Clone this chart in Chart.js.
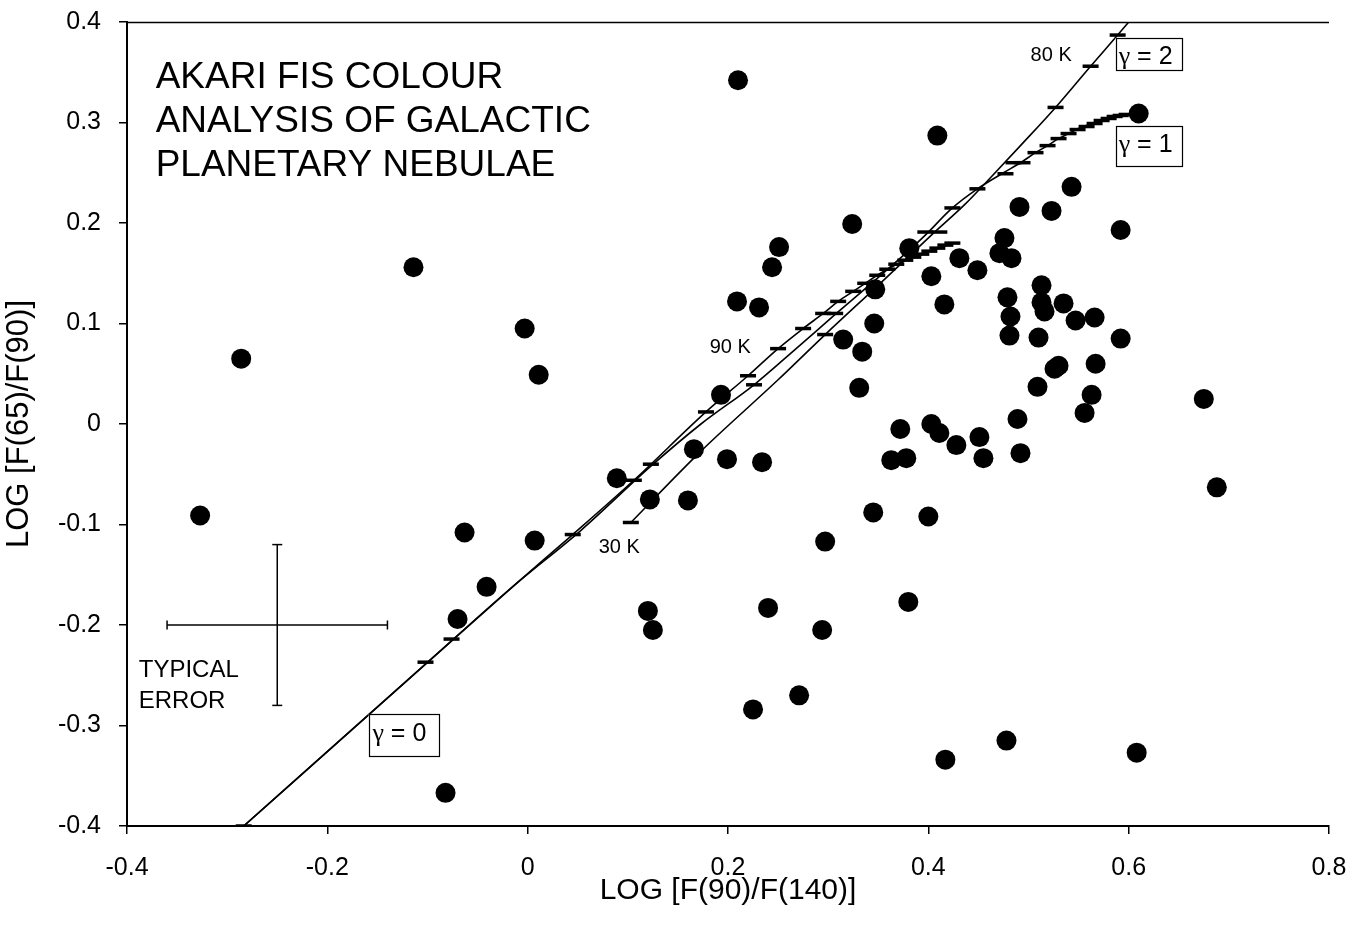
<!DOCTYPE html>
<html><head><meta charset="utf-8">
<script src="https://cdn.jsdelivr.net/npm/chart.js@4.4.1/dist/chart.umd.min.js"></script>
<style>html,body{margin:0;padding:0;background:#fff;}#wrap{width:1355px;height:934px;position:relative;}</style>
</head><body><div id="wrap"><canvas id="c"></canvas></div>
<script>
// Axis ticks
const xTicks = [-0.4, -0.2, 0, 0.2, 0.4, 0.6, 0.8];
const xTickLabels = ['-0.4', '-0.2', '0', '0.2', '0.4', '0.6', '0.8'];
const yTicks = [-0.4, -0.3, -0.2, -0.1, 0, 0.1, 0.2, 0.3, 0.4];
const yTickLabels = ['-0.4', '-0.3', '-0.2', '-0.1', '0', '0.1', '0.2', '0.3', '0.4'];

// Planetary nebulae colours
const pnX = [-0.327,-0.286,-0.114,-0.082,-0.070,-0.063,-0.041,-0.003,0.007,0.011,
  0.089,0.120,0.122,0.125,0.160,0.166,0.193,0.199,0.209,0.210,
  0.225,0.231,0.234,0.240,0.244,0.251,0.271,0.294,0.297,0.315,
  0.324,0.331,0.334,0.345,0.346,0.347,0.363,0.372,0.378,0.380,
  0.381,0.400,0.403,0.403,0.411,0.409,0.416,0.417,0.428,0.431,
  0.449,0.451,0.455,0.471,0.476,0.478,0.479,0.482,0.481,0.483,
  0.489,0.491,0.492,0.509,0.510,0.513,0.513,0.516,0.523,0.526,
  0.530,0.535,0.543,0.547,0.556,0.563,0.566,0.567,0.592,0.592,
  0.608,0.610,0.675,0.688];
const pnY = [-0.091,0.065,0.156,-0.367,-0.194,-0.108,-0.162,0.095,-0.116,0.049,
  -0.054,-0.186,-0.075,-0.205,-0.076,-0.025,0.029,-0.035,0.122,0.342,
  -0.284,0.116,-0.038,-0.183,0.156,0.176,-0.270,-0.205,-0.117,0.084,
  0.199,0.036,0.072,-0.088,0.100,0.134,-0.036,-0.005,-0.034,-0.177,
  0.175,-0.092,0.147,0.000,-0.009,0.287,0.119,-0.334,-0.021,0.165,
  0.153,-0.013,-0.034,0.170,0.185,-0.315,0.126,0.107,0.088,0.165,
  0.005,0.216,-0.029,0.037,0.086,0.138,0.121,0.112,0.212,0.055,
  0.058,0.120,0.236,0.103,0.011,0.029,0.106,0.060,0.193,0.085,
  -0.327,0.309,0.025,-0.063];

// Modified blackbody tracks (line vertices and temperature tick marks)
const g0X = [-0.2835,-0.102,-0.014,0.045,0.106,0.178,0.220,0.250,0.275,0.295,0.310,0.325,0.337,0.349,0.361,0.373,0.385,0.398,0.413,0.425];
const g0Y = [-0.400,-0.239,-0.161,-0.110,-0.056,0.012,0.048,0.075,0.095,0.110,0.122,0.132,0.140,0.148,0.155,0.161,0.166,0.171,0.176,0.180];
const g0TX = [-0.2835,-0.102,-0.076,0.045,0.106,0.178,0.220,0.250,0.275,0.295,0.310,0.325,0.337,0.349,0.359,0.368,0.377,0.385,0.393,0.401,0.409,0.417,0.424];
const g0TY = [-0.400,-0.237,-0.214,-0.110,-0.056,0.012,0.048,0.075,0.095,0.110,0.122,0.132,0.140,0.148,0.154,0.159,0.163,0.166,0.169,0.172,0.175,0.178,0.180];

const g1X = [-0.2835,-0.102,-0.014,0.053,0.123,0.173,0.226,0.268,0.307,0.342,0.372,0.397,0.424,0.449,0.475,0.492,0.507,0.519,0.530,0.540,0.552,0.567,0.582,0.597,0.610];
const g1Y = [-0.400,-0.239,-0.161,-0.106,-0.042,0.000,0.039,0.075,0.109,0.139,0.165,0.188,0.215,0.234,0.250,0.260,0.270,0.277,0.284,0.289,0.295,0.300,0.305,0.308,0.309];
const g1TX = [0.123,0.226,0.307,0.397,0.424,0.449,0.477,0.494,0.507,0.519,0.530,0.540,0.549,0.558,0.566,0.573,0.580,0.586,0.592,0.598];
const g1TY = [-0.040,0.039,0.110,0.191,0.215,0.234,0.249,0.260,0.270,0.277,0.284,0.289,0.293,0.296,0.299,0.302,0.304,0.306,0.307,0.308];

const g2X = [0.103,0.173,0.250,0.297,0.352,0.402,0.437,0.462,0.492,0.527,0.562,0.589,0.612];
const g2Y = [-0.098,-0.027,0.044,0.089,0.140,0.187,0.219,0.245,0.277,0.315,0.356,0.387,0.414];
const g2TX = [0.103,0.297,0.411,0.485,0.527,0.562,0.589];
const g2TY = [-0.098,0.089,0.191,0.260,0.315,0.356,0.387];

// Typical error
const errX = [-0.25], errY = [-0.20], errDX = [0.11], errDY = [0.08];

const pts = (xs, ys) => xs.map((x, i) => ({x, y: ys[i]}));
const K = '#000';

const lineDs = (xs, ys) => ({data: pts(xs, ys), showLine: true, borderColor: K, borderWidth: 1.6,
  pointRadius: 0, cubicInterpolationMode: 'monotone'});
const tickDs = (xs, ys) => ({data: pts(xs, ys), pointStyle: 'line', pointRadius: 8, borderColor: K, borderWidth: 3.5});

const datasets = [
  lineDs(g0X, g0Y), lineDs(g1X, g1Y), lineDs(g2X, g2Y),
  tickDs(g0TX, g0TY), tickDs(g1TX, g1TY), tickDs(g2TX, g2TY),
  {data: [{x: errX[0] - errDX[0], y: errY[0]}, {x: errX[0] + errDX[0], y: errY[0]}], showLine: true,
   borderColor: K, borderWidth: 1.5, pointStyle: 'line', pointRotation: 90, pointRadius: 4.5, pointBorderWidth: 1.5},
  {data: [{x: errX[0], y: errY[0] + errDY[0]}, {x: errX[0], y: errY[0] - errDY[0]}], showLine: true,
   borderColor: K, borderWidth: 1.5, pointStyle: 'line', pointRotation: 0, pointRadius: 5, pointBorderWidth: 1.5},
  {data: pts(pnX, pnY), pointStyle: 'circle', pointRadius: 10, backgroundColor: K, borderColor: K, borderWidth: 0}
];
datasets.forEach(d => { d.clip = 0; });

const SANS = '"Liberation Sans", Arial, sans-serif';
const SERIF = '"Liberation Serif", "DejaVu Serif", serif';

const notes = {
  title: {x: -0.3714, y: 0.334, lines: ['AKARI FIS COLOUR', 'ANALYSIS OF GALACTIC', 'PLANETARY NEBULAE'], size: 37, lh: 44},
  err: {x: -0.3883, y: -0.2517, lines: ['TYPICAL', 'ERROR'], size: 24, lh: 31},
  temps: [{x: 0.5021, y: 0.3615, t: '80 K'}, {x: 0.1817, y: 0.0706, t: '90 K'}, {x: 0.0709, y: -0.1284, t: '30 K'}],
  boxes: [
    {x0: 0.587, x1: 0.653, y0: 0.3841, y1: 0.3522, tx: 0.590, ty: 0.3582, g: '2'},
    {x0: 0.587, x1: 0.653, y0: 0.2965, y1: 0.2567, tx: 0.590, ty: 0.2710, g: '1'},
    {x0: -0.1587, x1: -0.0888, y0: -0.2886, y1: -0.3303, tx: -0.155, ty: -0.3155, g: '0'}
  ]
};

const annot = {
  id: 'annot',
  afterDatasetsDraw(chart) {
    const {ctx, scales: {x, y}, chartArea: a} = chart;
    ctx.save();
    ctx.strokeStyle = K; ctx.lineWidth = 1.5;
    ctx.beginPath(); ctx.moveTo(a.left, a.top + 0.5); ctx.lineTo(a.right, a.top + 0.5); ctx.stroke();
    ctx.fillStyle = K; ctx.textBaseline = 'alphabetic'; ctx.textAlign = 'left';
    const block = (n) => {
      ctx.font = n.size + 'px ' + SANS;
      n.lines.forEach((s, i) => ctx.fillText(s, x.getPixelForValue(n.x), y.getPixelForValue(n.y) + i * n.lh));
    };
    block(notes.title); block(notes.err);
    ctx.font = '20px ' + SANS;
    notes.temps.forEach(t => ctx.fillText(t.t, x.getPixelForValue(t.x), y.getPixelForValue(t.y)));
    notes.boxes.forEach(b => {
      const l = x.getPixelForValue(b.x0), r = x.getPixelForValue(b.x1);
      const tp = y.getPixelForValue(b.y0), bt = y.getPixelForValue(b.y1);
      ctx.fillStyle = '#fff'; ctx.fillRect(l, tp, r - l, bt - tp);
      ctx.strokeStyle = K; ctx.lineWidth = 1.2;
      ctx.strokeRect(Math.round(l) + 0.5, Math.round(tp) + 0.5, Math.round(r - l), Math.round(bt - tp));
      ctx.fillStyle = K;
      let px = x.getPixelForValue(b.tx); const py = y.getPixelForValue(b.ty);
      ctx.font = '26px ' + SERIF; ctx.fillText('γ', px, py);
      px += ctx.measureText('γ').width;
      ctx.font = '25px ' + SANS; ctx.fillText(' = ' + b.g, px, py);
    });
    ctx.restore();
  }
};

const axisCommon = {
  type: 'linear',
  grid: {display: true, drawOnChartArea: false, drawTicks: true, tickLength: 8, color: K, lineWidth: 1.5},
  border: {display: true, color: K, width: 2}
};

new Chart(document.getElementById('c'), {
  type: 'scatter',
  data: {datasets},
  options: {
    responsive: true, maintainAspectRatio: false, animation: false,
    layout: {padding: {left: 0, right: 26, top: 22, bottom: 0}},
    plugins: {legend: {display: false}, tooltip: {enabled: false}},
    scales: {
      x: Object.assign({}, axisCommon, {
        min: -0.4, max: 0.8,
        afterBuildTicks: s => { s.ticks = xTicks.map(v => ({value: v})); },
        afterFit: s => { s.height = 108; s.paddingLeft = 0; s.paddingRight = 0; },
        ticks: {autoSkip: false, maxRotation: 0, padding: 19, color: K, font: {family: SANS, size: 25},
                callback: (v, i) => xTickLabels[i]},
        title: {display: true, text: 'LOG [F(90)/F(140)]', color: K, font: {family: SANS, size: 30}, padding: {top: 0, bottom: 25}}
      }),
      y: Object.assign({}, axisCommon, {
        min: -0.4, max: 0.4,
        afterBuildTicks: s => { s.ticks = yTicks.map(v => ({value: v})); },
        afterFit: s => { s.width = 127; s.paddingTop = 0; s.paddingBottom = 0; },
        ticks: {autoSkip: false, padding: 18, color: K, font: {family: SANS, size: 25},
                callback: (v, i) => yTickLabels[i]},
        title: {display: true, text: 'LOG [F(65)/F(90)]', color: K, font: {family: SANS, size: 31}, padding: {top: 1, bottom: 0}}
      })
    }
  },
  plugins: [annot]
});
</script>
</body></html>
